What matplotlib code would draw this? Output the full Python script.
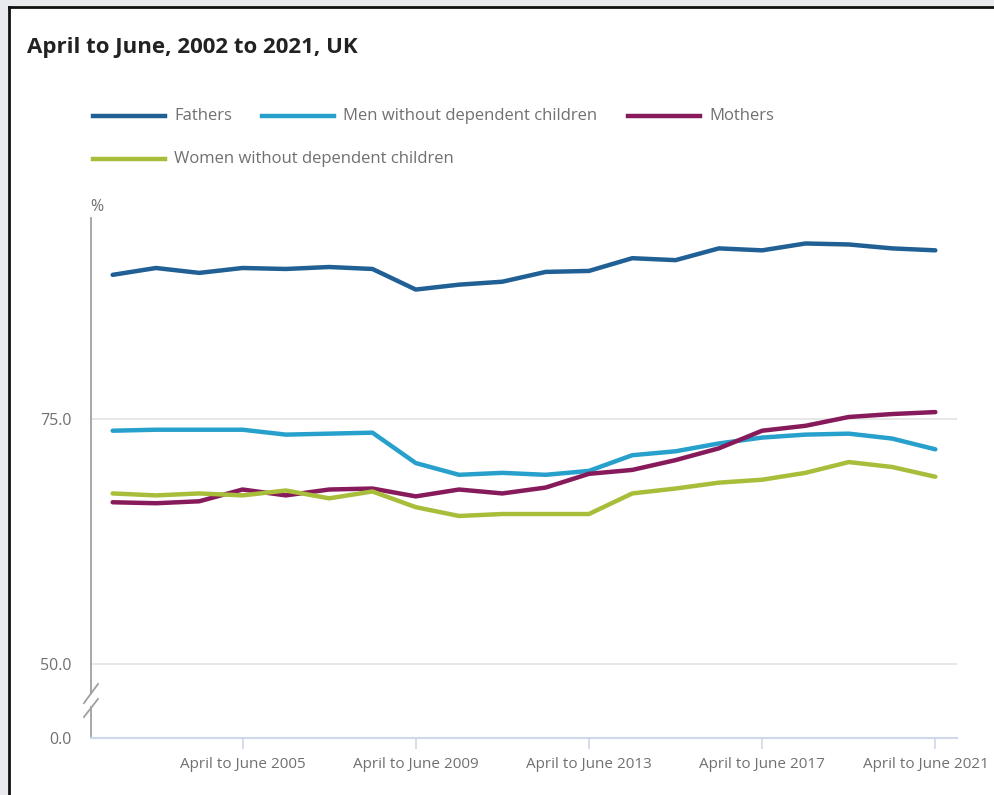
import numpy as np
import matplotlib.pyplot as plt
from matplotlib.lines import Line2D
from matplotlib.patches import Rectangle
from matplotlib.transforms import ScaledTranslation

plt.rcParams['font.family'] = ['Open Sans', 'DejaVu Sans']

years = list(range(2002, 2022))
fathers = [89.7, 90.4, 89.9, 90.4, 90.3, 90.5, 90.3, 88.2, 88.7, 89.0,
           90.0, 90.1, 91.4, 91.2, 92.4, 92.2, 92.9, 92.8, 92.4, 92.2]
men_no_children = [73.8, 73.9, 73.9, 73.9, 73.4, 73.5, 73.6, 70.5, 69.3, 69.5,
                   69.3, 69.7, 71.3, 71.7, 72.5, 73.1, 73.4, 73.5, 73.0, 71.9]
mothers = [66.5, 66.4, 66.6, 67.8, 67.2, 67.8, 67.9, 67.1, 67.8, 67.4,
           68.0, 69.4, 69.8, 70.8, 72.0, 73.8, 74.3, 75.2, 75.5, 75.7]
women_no_children = [67.4, 67.2, 67.4, 67.2, 67.7, 66.9, 67.6, 66.0, 65.1, 65.3,
                     65.3, 65.3, 67.4, 67.9, 68.5, 68.8, 69.5, 70.6, 70.1, 69.1]

series_names = ["Fathers", "Men without dependent children", "Mothers",
                "Women without dependent children"]
series_values = [fathers, men_no_children, mothers, women_no_children]
series_colors = ["#206095", "#27a0cc", "#871a5b", "#a8bd3a"]

tick_years = [2005, 2009, 2013, 2017, 2021]
tick_labels = ["April to June %d" % y for y in tick_years]
y_ticks = [0, 50, 75]
y_labels = ["0.0", "50.0", "75.0"]

W, H = 994, 795
TEXT = "#707070"

# squash 0-50 into a short band below the break
k = 0.151
def fwd(v):
    v = np.asarray(v, dtype=float)
    return np.where(v <= 50, v * k, 50 * k + (v - 50))

def inv(u):
    u = np.asarray(u, dtype=float)
    return np.where(u <= 50 * k, u / k, u - 50 * k + 50)

fig = plt.figure(figsize=(W / 100, H / 100), dpi=100)
fig.patch.set_facecolor("#e9eaee")

def fx(px):
    return px / W

def fy(py):
    return 1 - py / H

# white card with dark border on the left and top
fig.patches.append(Rectangle((fx(9), 0), 1, fy(7), transform=fig.transFigure,
                             facecolor="white", edgecolor="none", zorder=-2))
fig.lines.append(Line2D([fx(9), fx(9)], [0, fy(7)], transform=fig.transFigure,
                        color="#111111", lw=2, zorder=-1))
fig.lines.append(Line2D([fx(9), 1], [fy(7), fy(7)], transform=fig.transFigure,
                        color="#111111", lw=2, zorder=-1))

ax = fig.add_axes([fx(91), fy(738), fx(957) - fx(91), fy(218) - fy(738)])
ax.set_facecolor("none")
ax.set_yscale("function", functions=(fwd, inv))
ax.set_ylim(0, 95.5)
ax.set_xlim(2001.5, 2021.5)

for vals, col in zip(series_values, series_colors):
    ax.plot(years, vals, color=col, lw=3.2, solid_joinstyle="round",
            solid_capstyle="round", zorder=3)

ax.set_yticks(y_ticks)
ax.set_yticklabels(y_labels)
ax.set_xticks(tick_years)
ax.set_xticklabels(tick_labels)
ax.tick_params(axis="y", length=0, pad=14, labelsize=11.5, labelcolor=TEXT)
ax.tick_params(axis="x", length=8, width=1.2, color="#cfd8ea", pad=6,
               labelsize=11, labelcolor=TEXT)
ax.yaxis.set_minor_locator(plt.NullLocator())

# keep the last date label inside the card
last = ax.get_xticklabels()[-1]
last.set_transform(last.get_transform() + ScaledTranslation(-0.09, 0, fig.dpi_scale_trans))

for v in [50, 75]:
    ax.axhline(v, color="#e3e3e3", lw=1.2, zorder=1)

for side in ["top", "right", "left"]:
    ax.spines[side].set_visible(False)
ax.spines["bottom"].set_color("#cfd8ea")
ax.spines["bottom"].set_linewidth(1.5)

# left axis with a gap and slashes for the break
yt = ax.get_yaxis_transform()
ax.plot([0, 0], [0, 20.9], transform=yt,
        color="#a0a0a0", lw=1.3, clip_on=False, zorder=2)
ax.plot([0, 0], [30.4, 95.5], transform=yt,
        color="#a0a0a0", lw=1.3, clip_on=False, zorder=2)
dx = 7 / (957 - 91)
for lo, hi in [(23.6, 36.5), (14.2, 26.4)]:
    ax.plot([-dx, dx], [lo, hi], transform=yt,
            color="#a0a0a0", lw=1.3, clip_on=False, zorder=2)

fig.text(fx(97), fy(207), "%", color=TEXT, fontsize=11.5, ha="center", va="center")

fig.text(fx(27), fy(47), "April to June, 2002 to 2021, UK", fontsize=16,
         fontweight="bold", color="#222222", ha="left", va="center")

# legend laid out in rows
legend_pos = [(93, 116), (262, 116), (628, 116), (93, 159)]
for (px, py), name, col in zip(legend_pos, series_names, series_colors):
    fig.lines.append(Line2D([fx(px), fx(px + 72)], [fy(py), fy(py)],
                            transform=fig.transFigure, color=col, lw=3.2))
    fig.text(fx(px + 81), fy(py), name, fontsize=12, color=TEXT,
             ha="left", va="center")

fig.savefig("out.png", dpi=100, facecolor=fig.get_facecolor())
